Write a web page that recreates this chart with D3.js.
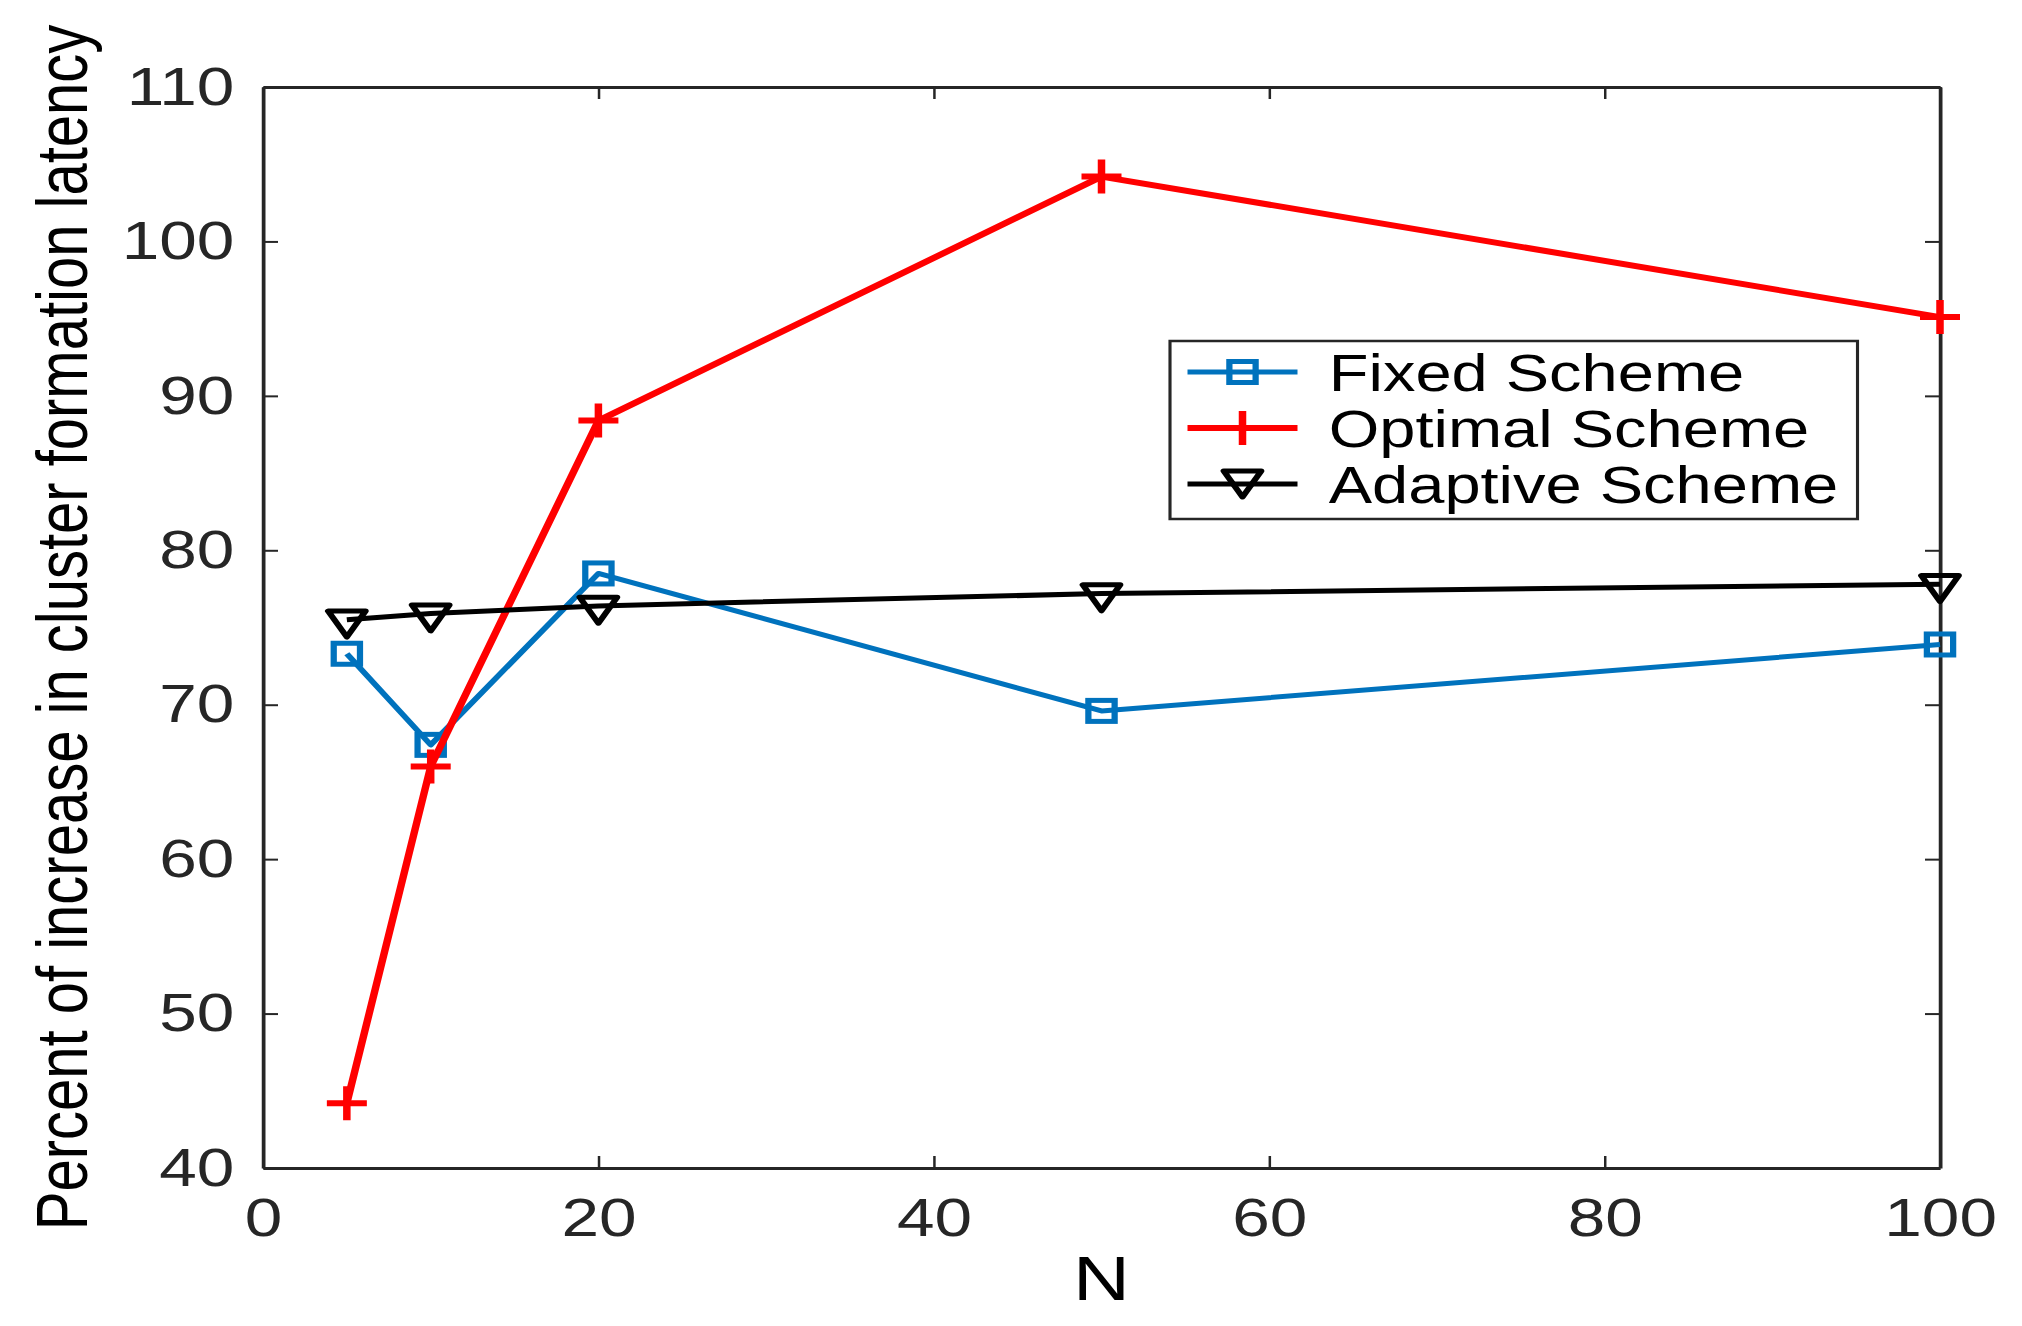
<!DOCTYPE html>
<html>
<head>
	<script src="https://d3js.org/d3.v7.min.js"></script>
	<title>Cluster formation latency</title>
	<style>
		body { margin: 0; background: #fff; }
		svg { display: block; }
		text { font-family: "Liberation Sans", Arial, Helvetica, sans-serif; fill: #262626; }
	</style>
</head>
<body>
	<div id="chart"></div>
	<script>
		// values
		const nValues = [5, 10, 20, 50, 100];
		const fixedScheme = [73.3, 67.4, 78.5, 69.6, 73.9];
		const optimalScheme = [44.2, 66.0, 88.4, 104.2, 95.1];
		const adaptiveScheme = [75.5, 75.9, 76.4, 77.2, 77.8];
		const seriesNames = ["Fixed Scheme", "Optimal Scheme", "Adaptive Scheme"];
		const xTicks = [0, 20, 40, 60, 80, 100];
		const yTicks = [40, 50, 60, 70, 80, 90, 100, 110];

		// the original figure is stretched sideways, so draw in a narrower
		// viewBox and let the svg stretch it to the page width
		const stretch = 1.25;
		const W = 2022, H = 1326;
		const vbW = W / stretch;

		const svg = d3.select("#chart")
			.append("svg")
			.attr("width", W)
			.attr("height", H)
			.attr("viewBox", `0 0 ${vbW} ${H}`)
			.attr("preserveAspectRatio", "none");

		const plotLeft = 210.4, plotRight = 1552, plotTop = 87, plotBottom = 1168;

		const x = d3.scaleLinear().domain([0, 100]).range([plotLeft, plotRight]);
		const y = d3.scaleLinear().domain([40, 110]).range([plotBottom, plotTop]);

		// axes, ticks point inward on all four sides (matlab box)
		const axisColor = "#262626";
		function styleAxis(g) {
			g.selectAll("path.domain").attr("stroke", axisColor).attr("stroke-width", 3);
			g.selectAll(".tick line").attr("stroke", axisColor).attr("stroke-width", 2);
			g.selectAll("text").attr("fill", axisColor).style("font-size", "54px")
				.style("font-family", "'Liberation Sans', Arial, Helvetica, sans-serif");
		}

		svg.append("g")
			.attr("transform", `translate(0,${plotBottom})`)
			.call(d3.axisBottom(x).tickValues(xTicks).tickSize(-12).tickSizeOuter(0).tickPadding(30))
			.call(styleAxis);

		svg.append("g")
			.attr("transform", `translate(0,${plotTop})`)
			.call(d3.axisTop(x).tickValues(xTicks).tickSize(-12).tickSizeOuter(0).tickFormat(""))
			.call(styleAxis);

		svg.append("g")
			.attr("transform", `translate(${plotLeft},0)`)
			.call(d3.axisLeft(y).tickValues(yTicks).tickSize(-12).tickSizeOuter(0).tickPadding(23))
			.call(styleAxis);

		svg.append("g")
			.attr("transform", `translate(${plotRight},0)`)
			.call(d3.axisRight(y).tickValues(yTicks).tickSize(-12).tickSizeOuter(0).tickFormat(""))
			.call(styleAxis);

		// axis titles
		svg.append("text")
			.attr("x", (plotLeft + plotRight) / 2)
			.attr("y", 1300)
			.attr("text-anchor", "middle")
			.style("font-size", "63px")
			.style("fill", "#000")
			.text("N");

		svg.append("text")
			.attr("transform", `translate(69.6,${(plotTop + plotBottom) / 2}) rotate(-90)`)
			.attr("text-anchor", "middle")
			.style("font-size", "58px")
			.style("fill", "#000")
			.text("Percent of increase in cluster formation latency");

		// marker shapes
		const tri = 15; // half width of triangle
		function drawMarker(g, type, color, cx, cy, legend) {
			if (type === "square") {
				g.append("rect")
					.attr("x", cx - 10.5).attr("y", cy - 10.5)
					.attr("width", 21).attr("height", 21)
					.attr("fill", "none").attr("stroke", color).attr("stroke-width", 5);
			} else if (type === "plus") {
				g.append("path")
					.attr("d", `M${cx - 16},${cy}H${cx + 16}M${cx},${cy - 17}V${cy + 17}`)
					.attr("stroke", color).attr("stroke-width", 6).attr("fill", "none");
			} else {
				const h = 26;
				const off = legend ? h / 2 : h / 3;
				g.append("path")
					.attr("d", `M${cx - tri},${cy - off}L${cx + tri},${cy - off}L${cx},${cy + h - off}Z`)
					.attr("fill", "none").attr("stroke", color).attr("stroke-width", 5)
					.attr("stroke-linejoin", "round");
			}
		}

		const series = [
			{ name: seriesNames[0], values: fixedScheme, color: "#0072BD", marker: "square", width: 5 },
			{ name: seriesNames[1], values: optimalScheme, color: "#FF0000", marker: "plus", width: 6 },
			{ name: seriesNames[2], values: adaptiveScheme, color: "#000000", marker: "triangle", width: 5 }
		];

		const line = d3.line()
			.x((d, i) => x(nValues[i]))
			.y(d => y(d));

		series.forEach(s => {
			const g = svg.append("g");
			g.append("path")
				.datum(s.values)
				.attr("d", line)
				.attr("fill", "none")
				.attr("stroke", s.color)
				.attr("stroke-width", s.width)
				.attr("stroke-linejoin", "round");
			s.values.forEach((v, i) => drawMarker(g, s.marker, s.color, x(nValues[i]), y(v), false));
		});

		// legend
		const legend = svg.append("g");
		legend.append("rect")
			.attr("x", 936).attr("y", 341)
			.attr("width", 550).attr("height", 178)
			.attr("fill", "#fff")
			.attr("stroke", axisColor).attr("stroke-width", 2.5);

		const rowY = [372, 428, 484];
		series.forEach((s, i) => {
			legend.append("line")
				.attr("x1", 950).attr("x2", 1038)
				.attr("y1", rowY[i]).attr("y2", rowY[i])
				.attr("stroke", s.color).attr("stroke-width", s.width);
			drawMarker(legend, s.marker, s.color, 994, rowY[i], true);
			legend.append("text")
				.attr("x", 1063).attr("y", rowY[i])
				.attr("dy", "0.36em")
				.style("font-size", "52px")
				.style("fill", "#000")
				.text(s.name);
		});
	</script>
</body>
</html>
